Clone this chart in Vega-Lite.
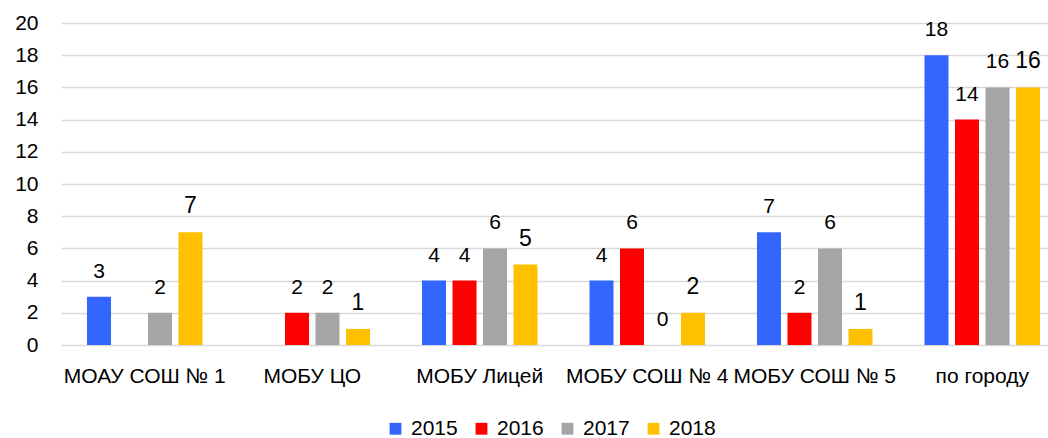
{
  "$schema": "https://vega.github.io/schema/vega-lite/v6.json",
  "autosize": {"type": "none"},
  "padding": {"left": 61, "top": 23, "right": 0, "bottom": 93},
  "width": 987,
  "height": 322,
  "background": "white",
  "config": {
    "font": "Liberation Sans",
    "view": {"stroke": null},
    "axis": {"labelFont": "Liberation Sans", "labelColor": "#000000"},
    "legend": {"labelFont": "Liberation Sans"}
  },
  "data": {
    "values": [
      {"school": "МОАУ СОШ № 1", "year": "2015", "value": 3},
      {"school": "МОАУ СОШ № 1", "year": "2017", "value": 2},
      {"school": "МОАУ СОШ № 1", "year": "2018", "value": 7},
      {"school": "МОБУ ЦО", "year": "2016", "value": 2},
      {"school": "МОБУ ЦО", "year": "2017", "value": 2},
      {"school": "МОБУ ЦО", "year": "2018", "value": 1},
      {"school": "МОБУ Лицей", "year": "2015", "value": 4},
      {"school": "МОБУ Лицей", "year": "2016", "value": 4},
      {"school": "МОБУ Лицей", "year": "2017", "value": 6},
      {"school": "МОБУ Лицей", "year": "2018", "value": 5},
      {"school": "МОБУ СОШ № 4", "year": "2015", "value": 4},
      {"school": "МОБУ СОШ № 4", "year": "2016", "value": 6},
      {"school": "МОБУ СОШ № 4", "year": "2017", "value": 0},
      {"school": "МОБУ СОШ № 4", "year": "2018", "value": 2},
      {"school": "МОБУ СОШ № 5", "year": "2015", "value": 7},
      {"school": "МОБУ СОШ № 5", "year": "2016", "value": 2},
      {"school": "МОБУ СОШ № 5", "year": "2017", "value": 6},
      {"school": "МОБУ СОШ № 5", "year": "2018", "value": 1},
      {"school": "по городу", "year": "2015", "value": 18},
      {"school": "по городу", "year": "2016", "value": 14},
      {"school": "по городу", "year": "2017", "value": 16},
      {"school": "по городу", "year": "2018", "value": 16}
    ]
  },
  "encoding": {
    "x": {
      "field": "school",
      "type": "nominal",
      "sort": ["МОАУ СОШ № 1", "МОБУ ЦО", "МОБУ Лицей", "МОБУ СОШ № 4", "МОБУ СОШ № 5", "по городу"],
      "scale": {"range": [0, 1005], "paddingInner": 0, "paddingOuter": 0},
      "axis": {
        "title": null,
        "labelAngle": 0,
        "ticks": false,
        "domain": false,
        "labelFontSize": 21,
        "labelPadding": 20,
        "labelLimit": 300
      }
    },
    "xOffset": {
      "field": "year",
      "type": "nominal",
      "sort": ["2015", "2016", "2017", "2018"],
      "scale": {"domain": ["2015", "2016", "2017", "2018"], "paddingInner": 0.213, "paddingOuter": 0.852}
    },
    "y": {
      "field": "value",
      "type": "quantitative",
      "scale": {"domain": [0, 20], "nice": false},
      "axis": {
        "title": null,
        "values": [0, 2, 4, 6, 8, 10, 12, 14, 16, 18, 20],
        "ticks": false,
        "domain": false,
        "labelFontSize": 21,
        "labelPadding": 23,
        "gridColor": "#D9D9D9",
        "gridWidth": 1.5
      }
    }
  },
  "layer": [
    {
      "mark": {"type": "bar"},
      "encoding": {
        "color": {
          "field": "year",
          "type": "nominal",
          "scale": {"domain": ["2015", "2016", "2017", "2018"], "range": ["#3366FF", "#FF0000", "#A5A5A5", "#FFC000"]},
          "legend": {
            "title": null,
            "orient": "none",
            "direction": "horizontal",
            "legendX": 324,
            "legendY": 395,
            "padding": 0,
            "symbolType": "square",
            "symbolSize": 140,
            "symbolStrokeWidth": 0,
            "labelFontSize": 21,
            "labelOffset": 5,
            "columnPadding": 13
          }
        }
      }
    },
    {
      "mark": {"type": "text", "baseline": "alphabetic", "dy": -19, "color": "#000000"},
      "encoding": {
        "text": {"field": "value", "type": "quantitative"},
        "size": {"condition": {"test": "datum.year == '2018'", "value": 23}, "value": 21}
      }
    }
  ]
}
